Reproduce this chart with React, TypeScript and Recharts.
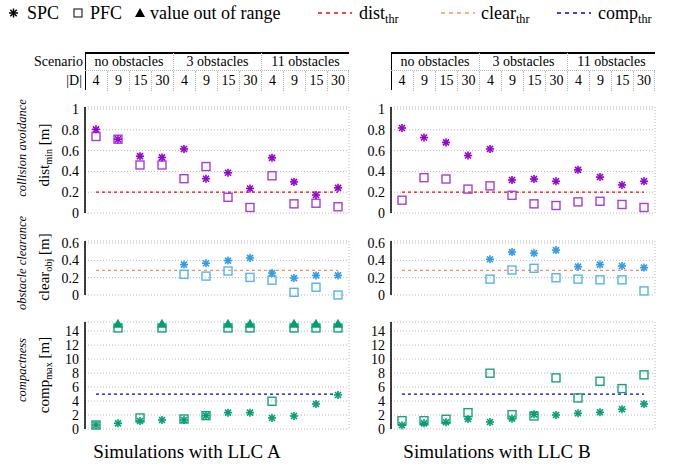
import React from 'react';
import {
  ComposedChart,
  Scatter,
  XAxis,
  YAxis,
  CartesianGrid,
  ReferenceLine,
  ReferenceArea,
} from 'recharts';

const FONT = '"Liberation Serif", "DejaVu Serif", "Times New Roman", Times, serif';

// categories
const scenarios = ['no obstacles', '3 obstacles', '11 obstacles'];
const droneCounts = [4, 9, 15, 30];

// collision avoidance: dist_min [m]
const spcDistA = [0.805, 0.71, 0.547, 0.535, 0.616, 0.33, 0.387, 0.236, 0.531, 0.299, 0.173, 0.242];
const pfcDistA = [0.736, 0.71, 0.462, 0.462, 0.33, 0.447, 0.151, 0.053, 0.358, 0.088, 0.094, 0.06];
const spcDistB = [0.818, 0.726, 0.679, 0.553, 0.616, 0.318, 0.327, 0.305, 0.415, 0.346, 0.27, 0.305];
const pfcDistB = [0.123, 0.34, 0.327, 0.23, 0.261, 0.17, 0.088, 0.072, 0.107, 0.113, 0.082, 0.053];

// obstacle clearance: clear_obj [m] (no obstacles -> no value)
const spcClearA = [null, null, null, null, 0.351, 0.366, 0.397, 0.428, 0.253, 0.195, 0.226, 0.226];
const pfcClearA = [null, null, null, null, 0.238, 0.218, 0.277, 0.203, 0.171, 0.031, 0.09, 0.0];
const spcClearB = [null, null, null, null, 0.413, 0.495, 0.483, 0.518, 0.327, 0.351, 0.335, 0.316];
const pfcClearB = [null, null, null, null, 0.183, 0.288, 0.308, 0.199, 0.183, 0.175, 0.175, 0.047];

// compactness: comp_max [m]
const spcCompA = [0.57, 0.81, 1.15, 1.29, 1.29, 1.91, 2.34, 2.34, 1.58, 1.86, 3.58, 4.87];
const pfcCompA = [0.57, null, 1.58, null, 1.43, 1.91, null, null, 3.97, null, null, null];
const pfcCompAOutOfRange = [false, true, false, true, false, false, true, true, false, true, true, true];
const spcCompB = [0.53, 0.81, 0.96, 1.43, 1.0, 1.48, 2.1, 2.0, 2.25, 2.39, 2.82, 3.58];
const pfcCompB = [1.19, 1.19, 1.39, 2.34, 7.98, 2.05, 1.86, 7.31, 4.44, 6.83, 5.78, 7.74];

// thresholds
const DIST_THR = 0.2;
const CLEAR_THR = 0.285;
const COMP_THR = 5;

// where clipped (out of range) values are drawn
const OUT_SQUARE = 14.45;
const OUT_TRIANGLE = 15.05;

const distTicks = [0, 0.2, 0.4, 0.6, 0.8, 1];
const clearTicks = [0, 0.2, 0.4, 0.6];
const compTicks = [0, 2, 4, 6, 8, 10, 12, 14];

const categories = scenarios.flatMap((s) => droneCounts.map((d) => `${s} ${d}`));
const boundaries = categories.map((_, i) => i).concat(categories.length);

type Row = { key: string; spc: number | null; pfc: number | null; oor: number | null };

const buildRows = (spc: (number | null)[], pfc: (number | null)[], out?: boolean[]): Row[] =>
  categories.map((key, i) => ({
    key,
    spc: spc[i],
    pfc: out && out[i] ? OUT_SQUARE : pfc[i],
    oor: out && out[i] ? OUT_TRIANGLE : null,
  }));

// layout
const PLOT_W = 264;
const AXIS_W = 60;
const PAD_T = 12;
const PAD_B = 11;
const PAD_R = 6;
const LEFT_X = 85;
const RIGHT_X = 391;
const SHADE_TOP = 91;
const SHADE_BOTTOM = 429;

const PURPLE = '#9400d3';
const PURPLE_LIGHT = '#a43ee0';
const SKY = '#2f9de8';
const SKY_LIGHT = '#56b4e9';
const GREEN = '#009e73';
const GREEN_LIGHT = '#1aa27c';

const asteriskShape = (key: keyof Row, color: string) => (p: any) => {
  if (p.payload == null || p.payload[key] == null || p.cx == null || p.cy == null) return <g />;
  const r = 4;
  const d = 3;
  return (
    <g stroke={color} strokeWidth={1.6}>
      <line x1={p.cx - r} y1={p.cy} x2={p.cx + r} y2={p.cy} />
      <line x1={p.cx} y1={p.cy - r} x2={p.cx} y2={p.cy + r} />
      <line x1={p.cx - d} y1={p.cy - d} x2={p.cx + d} y2={p.cy + d} />
      <line x1={p.cx - d} y1={p.cy + d} x2={p.cx + d} y2={p.cy - d} />
    </g>
  );
};

const squareShape = (key: keyof Row, color: string) => (p: any) => {
  if (p.payload == null || p.payload[key] == null || p.cx == null || p.cy == null) return <g />;
  return <rect x={p.cx - 4} y={p.cy - 4} width={8} height={8} fill="none" stroke={color} strokeWidth={1.4} />;
};

const triangleShape = (color: string) => (p: any) => {
  if (p.payload == null || p.payload.oor == null || p.cx == null || p.cy == null) return <g />;
  return <path d={`M${p.cx},${p.cy - 5} L${p.cx + 5},${p.cy + 4} L${p.cx - 5},${p.cy + 4} Z`} fill={color} />;
};

interface PanelProps {
  x0: number;
  top: number;
  bottom: number;
  domain: [number, number];
  ticks: number[];
  rows: Row[];
  color: string;
  light: string;
  thr: number;
  thrColor: string;
  thrDash: string;
  showOut?: boolean;
}

const Panel: React.FC<PanelProps> = ({ x0, top, bottom, domain, ticks, rows, color, light, thr, thrColor, thrDash, showOut }) => {
  const h = bottom - top;
  return (
    <div style={{ position: 'absolute', left: x0 - AXIS_W, top: top - PAD_T }}>
      <ComposedChart
        width={AXIS_W + PLOT_W + PAD_R}
        height={h + PAD_T + PAD_B}
        data={rows}
        margin={{ top: PAD_T, right: PAD_R, bottom: PAD_B, left: 0 }}
      >
        <CartesianGrid xAxisId="grid" yAxisId="v" stroke="#b8b8b8" strokeDasharray="1 2" />
        <XAxis xAxisId="grid" type="number" domain={[0, categories.length]} ticks={boundaries} tick={false} tickLine={false} axisLine={false} height={0} />
        <XAxis
          xAxisId="cat"
          dataKey="key"
          type="category"
          scale="point"
          padding={{ left: 11, right: 11 }}
          tick={false}
          tickLine={false}
          height={0}
          axisLine={{ stroke: '#000', strokeWidth: 1.5 }}
        />
        <YAxis
          yAxisId="v"
          type="number"
          domain={domain}
          ticks={ticks}
          interval={0}
          width={AXIS_W}
          tickSize={0}
          tickMargin={6}
          tickLine={false}
          axisLine={{ stroke: '#000', strokeWidth: 1.5 }}
          tick={{ fontSize: 14, fill: '#000', fontFamily: FONT }}
        />
        <ReferenceLine
          xAxisId="cat"
          yAxisId="v"
          segment={[{ x: categories[0], y: thr }, { x: categories[categories.length - 1], y: thr }]}
          stroke={thrColor}
          strokeWidth={1.2}
          strokeDasharray={thrDash}
        />
        <Scatter xAxisId="cat" yAxisId="v" dataKey="pfc" shape={squareShape('pfc', light)} isAnimationActive={false} />
        <Scatter xAxisId="cat" yAxisId="v" dataKey="spc" shape={asteriskShape('spc', color)} isAnimationActive={false} />
        {showOut && (
          <Scatter xAxisId="cat" yAxisId="v" dataKey="oor" shape={triangleShape(color)} isAnimationActive={false} />
        )}
      </ComposedChart>
    </div>
  );
};

const Shading: React.FC<{ x0: number }> = ({ x0 }) => (
  <div style={{ position: 'absolute', left: x0, top: SHADE_TOP }}>
    <ComposedChart
      width={PLOT_W}
      height={SHADE_BOTTOM - SHADE_TOP}
      data={[{ x: 0 }, { x: categories.length }]}
      margin={{ top: 0, right: 0, bottom: 0, left: 0 }}
    >
      <XAxis type="number" dataKey="x" domain={[0, categories.length]} hide />
      <YAxis type="number" domain={[0, 1]} hide />
      {scenarios.map((s, g) => (
        <ReferenceArea
          key={s}
          x1={g * droneCounts.length}
          x2={(g + 1) * droneCounts.length}
          y1={0}
          y2={1}
          fill={g === 1 ? '#f8f8f8' : '#efefef'}
          fillOpacity={1}
          stroke="none"
        />
      ))}
    </ComposedChart>
  </div>
);

const dotted = '1px dotted #b8b8b8';

const Header: React.FC<{ x0: number; labels?: boolean }> = ({ x0, labels }) => {
  const groupW = PLOT_W / scenarios.length;
  const cellW = PLOT_W / categories.length;
  return (
    <>
      <div style={{ position: 'absolute', left: x0, top: 52, width: PLOT_W, height: 1.5, background: '#000' }} />
      <div style={{ position: 'absolute', left: x0 - 0.5, top: 52, width: 1.5, height: 38, background: '#000' }} />
      <div style={{ position: 'absolute', left: x0, top: 70, width: PLOT_W, borderTop: dotted }} />
      {labels && (
        <>
          <div style={{ position: 'absolute', left: 0, width: 83, top: 53, height: 18, lineHeight: '18px', textAlign: 'right', fontSize: 14 }}>Scenario</div>
          <div style={{ position: 'absolute', left: 0, width: 82, top: 71, height: 20, lineHeight: '20px', textAlign: 'right', fontSize: 14 }}>|D|</div>
        </>
      )}
      {scenarios.map((s, g) => (
        <div
          key={s}
          style={{
            position: 'absolute',
            left: x0 + g * groupW,
            top: 53,
            width: groupW,
            height: 17,
            lineHeight: '18px',
            textAlign: 'center',
            fontSize: 14,
            boxSizing: 'border-box',
            borderLeft: g > 0 ? dotted : 'none',
          }}
        >
          {s}
        </div>
      ))}
      {categories.map((c, i) => (
        <div
          key={c}
          style={{
            position: 'absolute',
            left: x0 + i * cellW,
            top: 71,
            width: cellW,
            height: 20,
            lineHeight: '20px',
            textAlign: 'center',
            fontSize: 14,
            boxSizing: 'border-box',
            borderLeft: i > 0 ? dotted : 'none',
            borderRight: i === categories.length - 1 ? dotted : 'none',
          }}
        >
          {droneCounts[i % droneCounts.length]}
        </div>
      ))}
    </>
  );
};

const VLabel: React.FC<{ x: number; y: number; italic?: boolean; children: React.ReactNode }> = ({ x, y, italic, children }) => (
  <div
    style={{
      position: 'absolute',
      left: x,
      top: y,
      transform: 'translate(-50%, -50%) rotate(-90deg)',
      whiteSpace: 'nowrap',
      fontSize: italic ? 12.5 : 15,
      fontStyle: italic ? 'italic' : 'normal',
      lineHeight: '16px',
    }}
  >
    {children}
  </div>
);

const sub = (t: string) => <sub style={{ fontSize: '0.68em', verticalAlign: '-0.3em', lineHeight: 0 }}>{t}</sub>;

const Legend: React.FC = () => {
  const text = (left: number, content: React.ReactNode) => (
    <div style={{ position: 'absolute', left, top: 2, height: 22, lineHeight: '22px', fontSize: 18, whiteSpace: 'nowrap' }}>{content}</div>
  );
  return (
    <>
      <svg style={{ position: 'absolute', left: 0, top: 0 }} width={673} height={28}>
        <g stroke="#000" strokeWidth={1.5}>
          <line x1={9} y1={13} x2={18} y2={13} />
          <line x1={13.5} y1={8.5} x2={13.5} y2={17.5} />
          <line x1={10.3} y1={9.8} x2={16.7} y2={16.2} />
          <line x1={10.3} y1={16.2} x2={16.7} y2={9.8} />
        </g>
        <rect x={74} y={9} width={8} height={8} fill="none" stroke="#000" strokeWidth={1} />
        <path d="M140,8 L145,17 L135,17 Z" fill="#000" />
        <line x1={318} y1={13} x2={352} y2={13} stroke="#ff0000" strokeWidth={1.5} strokeDasharray="4 4" />
        <line x1={441} y1={13} x2={475} y2={13} stroke="#ff8c66" strokeWidth={1.5} strokeDasharray="4 4" />
        <line x1={557} y1={13} x2={591} y2={13} stroke="#0000dd" strokeWidth={1.5} strokeDasharray="4 4" />
      </svg>
      {text(27, 'SPC')}
      {text(90, 'PFC')}
      {text(150, 'value out of range')}
      {text(359, <>dist{sub('thr')}</>)}
      {text(481, <>clear{sub('thr')}</>)}
      {text(598, <>comp{sub('thr')}</>)}
    </>
  );
};

const COLL = { top: 107, bottom: 213, domain: [0, 1.02] as [number, number] };
const CLEAR = { top: 241, bottom: 295, domain: [0, 0.623] as [number, number] };
const COMP = { top: 322, bottom: 429, domain: [0, 15.3] as [number, number] };

const columns = [
  {
    x0: LEFT_X,
    title: 'Simulations with LLC A',
    titleX: 187,
    dist: buildRows(spcDistA, pfcDistA),
    clear: buildRows(spcClearA, pfcClearA),
    comp: buildRows(spcCompA, pfcCompA, pfcCompAOutOfRange),
    labels: true,
  },
  {
    x0: RIGHT_X,
    title: 'Simulations with LLC B',
    titleX: 497,
    dist: buildRows(spcDistB, pfcDistB),
    clear: buildRows(spcClearB, pfcClearB),
    comp: buildRows(spcCompB, pfcCompB),
    labels: false,
  },
];

export default function App() {
  return (
    <div
      style={{
        position: 'absolute',
        left: 0,
        top: 0,
        width: 673,
        height: 468,
        background: '#fff',
        fontFamily: FONT,
        color: '#000',
        overflow: 'hidden',
      }}
    >
      <Legend />
      {columns.map((col) => (
        <React.Fragment key={col.title}>
          <Shading x0={col.x0} />
          <Header x0={col.x0} labels={col.labels} />
          <Panel x0={col.x0} {...COLL} ticks={distTicks} rows={col.dist} color={PURPLE} light={PURPLE_LIGHT} thr={DIST_THR} thrColor="#ff0000" thrDash="3 3" />
          <Panel x0={col.x0} {...CLEAR} ticks={clearTicks} rows={col.clear} color={SKY} light={SKY_LIGHT} thr={CLEAR_THR} thrColor="#ff8c66" thrDash="3 3" />
          <Panel x0={col.x0} {...COMP} ticks={compTicks} rows={col.comp} color={GREEN} light={GREEN_LIGHT} thr={COMP_THR} thrColor="#0000dd" thrDash="3 3" showOut />
          <div style={{ position: 'absolute', left: col.titleX, top: 452, transform: 'translate(-50%, -50%)', fontSize: 19, whiteSpace: 'nowrap' }}>
            {col.title}
          </div>
        </React.Fragment>
      ))}
      <VLabel x={22} y={148} italic>collision avoidance</VLabel>
      <VLabel x={44} y={155}>dist{sub('min')} [m]</VLabel>
      <VLabel x={22} y={263} italic>obstacle clearance</VLabel>
      <VLabel x={44} y={267}>clear{sub('obj')} [m]</VLabel>
      <VLabel x={22} y={370} italic>compactness</VLabel>
      <VLabel x={44} y={375}>comp{sub('max')} [m]</VLabel>
    </div>
  );
}
